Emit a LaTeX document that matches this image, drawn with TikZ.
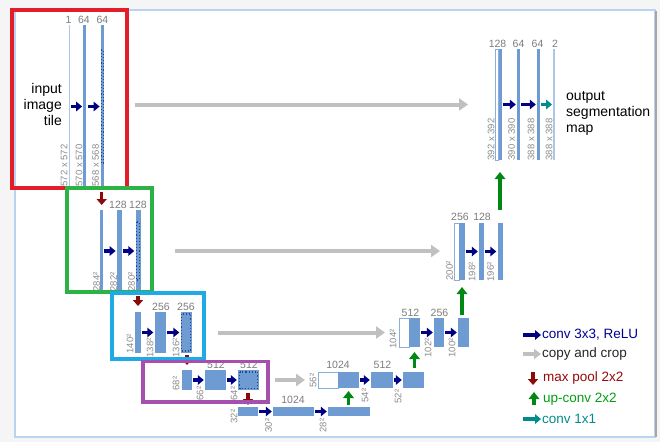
\documentclass[tikz,border=0pt]{standalone}
\usepackage{fontspec}
\setmainfont{Liberation Sans}
\usetikzlibrary{arrows.meta}
\definecolor{barblue}{RGB}{110,155,210}
\definecolor{barlight}{RGB}{170,198,234}
\definecolor{navyar}{RGB}{0,0,130}
\definecolor{grayar}{RGB}{192,192,192}
\definecolor{redar}{RGB}{140,10,10}
\definecolor{greenar}{RGB}{0,135,20}
\definecolor{tealar}{RGB}{0,140,140}
\definecolor{lblgray}{RGB}{125,125,125}
\definecolor{rotgray}{RGB}{140,140,140}
\definecolor{boxred}{RGB}{228,30,40}
\definecolor{boxgreen}{RGB}{45,178,70}
\definecolor{boxcyan}{RGB}{30,170,230}
\definecolor{boxpurple}{RGB}{165,80,175}
\definecolor{panelbd}{RGB}{185,212,242}
\definecolor{cropblue}{RGB}{40,70,150}
\tikzset{
  bar/.style={fill=barblue, draw=none, inner sep=0pt, outer sep=0pt},
  barthin/.style={fill=barlight, draw=none, inner sep=0pt, outer sep=0pt},
  barwhite/.style={fill=white, draw=barblue!80, line width=0.7pt, inner sep=0pt, outer sep=0pt},
  chan/.style={text=lblgray, font=\fontsize{10.5}{12}\selectfont, inner sep=0pt},
  dim/.style={text=rotgray, font=\fontsize{9.5}{11}\selectfont, inner sep=0.5pt, rotate=90, anchor=west},
  conv/.style={draw=navyar, line width=3.2pt, -{Triangle[length=6pt,width=9.5pt]}, shorten <=1.2pt, shorten >=1.2pt},
  convone/.style={draw=tealar, line width=3.2pt, -{Triangle[length=6pt,width=9.5pt]}, shorten <=1.2pt, shorten >=1.2pt},
  copyar/.style={draw=grayar, line width=4pt, -{Triangle[length=9pt,width=12pt]}},
  pool/.style={draw=redar, line width=3.4pt, -{Triangle[length=6pt,width=10pt]}},
  upar/.style={draw=greenar, line width=3.6pt, -{Triangle[length=7pt,width=10.5pt]}},
  cropdot/.style={draw=cropblue, dotted, line width=1.1pt},
  hbox/.style={line width=3.2pt},
  legtext/.style={anchor=west, font=\fontsize{13.5}{15}\selectfont, inner sep=0pt},
  bigtext/.style={font=\fontsize{14}{16}\selectfont, inner sep=0pt}
}
\begin{document}
\begin{tikzpicture}[x=1pt,y=-1pt]
\useasboundingbox (0,0) rectangle (660,442);
\fill[black!4] (0,0) rectangle (660,442);
\draw[panelbd, line width=1.5pt, fill=white] (15,10) rectangle (655,437);
\draw[black!35, line width=1.2pt] (656,11) -- (656,437);

% ---- level 1 (down)
\node[barthin, minimum width=1.5pt, minimum height=163pt] (b1a) at (69.5,106.5) {};
\node[bar, minimum width=3pt, minimum height=163pt] (b1b) at (84.8,106.5) {};
\node[bar, minimum width=3pt, minimum height=163pt] (b1c) at (102.3,106.5) {};
\draw[cropdot] (101.2,50) rectangle (103.4,163);
% ---- level 2
\node[bar, minimum width=2.5pt, minimum height=82pt] (b2a) at (101.7,251) {};
\node[bar, minimum width=5pt, minimum height=82pt] (b2b) at (119.3,251) {};
\node[bar, minimum width=5pt, minimum height=82pt] (b2c) at (138,251) {};
\draw[cropdot] (136.3,222) rectangle (139.7,280);
% ---- level 3
\node[bar, minimum width=6pt, minimum height=41pt] (b3a) at (138,332.5) {};
\node[bar, minimum width=11pt, minimum height=41pt] (b3b) at (160,332.5) {};
\node[bar, minimum width=11pt, minimum height=41pt] (b3c) at (186,332.5) {};
\draw[cropdot] (181.5,314) rectangle (190.5,351);
% ---- level 4
\node[bar, minimum width=10pt, minimum height=20pt] (b4a) at (187,380) {};
\node[bar, minimum width=21pt, minimum height=20pt] (b4b) at (215.5,380) {};
\node[bar, minimum width=21pt, minimum height=20pt] (b4c) at (248.5,380) {};
\draw[cropdot] (239.5,372) rectangle (257.5,388.5);
% ---- level 5
\node[bar, minimum width=20pt, minimum height=9pt] (b5a) at (248,411.5) {};
\node[bar, minimum width=41pt, minimum height=9pt] (b5b) at (293.5,411.5) {};
\node[bar, minimum width=42pt, minimum height=9pt] (b5c) at (349,411.5) {};
% ---- up level 4
\node[barwhite, minimum width=20pt, minimum height=16pt] (u4a) at (328,380) {};
\node[bar, minimum width=21pt, minimum height=16pt] (u4b) at (348.5,380) {};
\node[bar, minimum width=22pt, minimum height=16pt] (u4c) at (382,380) {};
\node[bar, minimum width=21pt, minimum height=16pt] (u4d) at (413.5,380) {};
% ---- up level 3
\node[barwhite, minimum width=10pt, minimum height=29pt] (u3a) at (404,332.5) {};
\node[bar, minimum width=11pt, minimum height=29pt] (u3b) at (414.5,332.5) {};
\node[bar, minimum width=10pt, minimum height=29pt] (u3c) at (439,332.5) {};
\node[bar, minimum width=11pt, minimum height=29pt] (u3d) at (463.5,332.5) {};
% ---- up level 2
\node[barwhite, minimum width=5pt, minimum height=57pt] (u2a) at (456.5,251.5) {};
\node[bar, minimum width=6pt, minimum height=57pt] (u2b) at (462,251.5) {};
\node[bar, minimum width=5pt, minimum height=57pt] (u2c) at (481.5,251.5) {};
\node[bar, minimum width=5pt, minimum height=57pt] (u2d) at (500,251.5) {};
% ---- up level 1
\node[barwhite, minimum width=3pt, minimum height=111pt] (u1a) at (496.5,104.5) {};
\node[bar, minimum width=3pt, minimum height=111pt] (u1b) at (500,104.5) {};
\node[bar, minimum width=3pt, minimum height=111pt] (u1c) at (518.5,104.5) {};
\node[bar, minimum width=3pt, minimum height=111pt] (u1d) at (538.5,104.5) {};
\node[barthin, minimum width=1.5pt, minimum height=111pt] (u1e) at (554,104.5) {};

% ---- conv arrows
\draw[conv] (b1a.east) -- (b1b.west);
\draw[conv] (b1b.east) -- (b1c.west);
\draw[conv] (b2a.east) -- (b2b.west);
\draw[conv] (b2b.east) -- (b2c.west);
\draw[conv] (b3a.east) -- (b3b.west);
\draw[conv] (b3b.east) -- (b3c.west);
\draw[conv] (b4a.east) -- (b4b.west);
\draw[conv] (b4b.east) -- (b4c.west);
\draw[conv] (b5a.east) -- (b5b.west);
\draw[conv] (b5b.east) -- (b5c.west);
\draw[conv] (u4b.east) -- (u4c.west);
\draw[conv] (u4c.east) -- (u4d.west);
\draw[conv] (u3b.east) -- (u3c.west);
\draw[conv] (u3c.east) -- (u3d.west);
\draw[conv] (u2b.east) -- (u2c.west);
\draw[conv] (u2c.east) -- (u2d.west);
\draw[conv] (u1b.east) -- (u1c.west);
\draw[conv] (u1c.east) -- (u1d.west);
\draw[convone] (u1d.east) -- (u1e.west);

% ---- copy and crop
\draw[copyar, shorten <=31pt, shorten >=27pt] (u1a.west -| b1c.east) -- (u1a.west);
\draw[copyar, shorten <=34.5pt, shorten >=14pt] (b2c.east) -- (b2c.east -| u2a.west);
\draw[copyar, shorten <=26.5pt, shorten >=14pt] (b3c.east) -- (b3c.east -| u3a.west);
\draw[copyar, shorten <=16pt, shorten >=13pt] (b4c.east) -- (b4c.east -| u4a.west);

% ---- max pool
\draw[pool, shorten <=4pt, shorten >=5pt] (b2a.north |- b1c.south) -- (b2a.north);
\draw[pool, shorten <=4pt, shorten >=6pt] (b3a.north |- b2c.south) -- (b3a.north);
\draw[pool, shorten <=2pt, shorten >=5pt] (b4a.north |- b3c.south) -- (b4a.north);
\draw[pool, shorten <=3pt, shorten >=2pt] (b5a.north |- b4c.south) -- (b5a.north);

% ---- up-conv
\draw[upar, shorten <=2pt, shorten >=3pt] (u4b.south |- b5c.north) -- (u4b.south);
\draw[upar, shorten <=4pt, shorten >=5pt] (u3b.south |- u4d.north) -- (u3b.south);
\draw[upar, shorten <=3pt, shorten >=7pt] (u2b.south |- u3d.north) -- (u2b.south);
\draw[upar, line width=4.2pt, shorten <=13pt, shorten >=12pt] (u1b.south |- u2d.north) -- (u1b.south);

% ---- channel labels
\node[chan] (c1a) at (68.5,20) {1};
\node[chan] (c1b) at (84,20) {64};
\node[chan] (c1c) at (102.5,20) {64};
\node[chan] (c2b) at (118,205) {128};
\node[chan] (c2c) at (138,205) {128};
\node[chan] (c3b) at (161,307) {256};
\node[chan] (c3c) at (186,307) {256};
\node[chan] (c4b) at (216,365) {512};
\node[chan] (c4c) at (249,365) {512};
\node[chan] (c5b) at (293,400) {1024};
\node[chan] (cu4b) at (338,365) {1024};
\node[chan] (cu4c) at (382.5,365) {512};
\node[chan] (cu3b) at (410.5,313) {512};
\node[chan] (cu3c) at (439.5,313) {256};
\node[chan] (cu2b) at (460,217) {256};
\node[chan] (cu2c) at (482,217) {128};
\node[chan] (cu1b) at (497.5,44) {128};
\node[chan] (cu1c) at (518.5,44) {64};
\node[chan] (cu1d) at (537.5,44) {64};
\node[chan] (cu1e) at (555,44) {2};

% ---- size labels
\node[dim] (d1a) at (64,187) {572 x 572};
\node[dim] (d1b) at (79,187) {570 x 570};
\node[dim] (d1c) at (95.5,187) {568 x 568};
\node[dim] (d2a) at (96.5,292) {284²};
\node[dim] (d2b) at (113.5,292) {282²};
\node[dim] (d2c) at (131.5,292) {280²};
\node[dim] (d3a) at (130,354) {140²};
\node[dim] (d3b) at (150,358) {138²};
\node[dim] (d3c) at (176,358) {136²};
\node[dim] (d4a) at (176,391) {68²};
\node[dim] (d4b) at (200,401) {66²};
\node[dim] (d4c) at (234,401) {64²};
\node[dim] (d5a) at (234,424) {32²};
\node[dim] (d5b) at (268.5,433) {30²};
\node[dim] (d5c) at (323,433) {28²};
\node[dim] (du4a) at (313,388) {56²};
\node[dim] (du4c) at (365,403) {54²};
\node[dim] (du4d) at (398,404) {52²};
\node[dim] (du3a) at (393,349) {104²};
\node[dim] (du3c) at (428,358) {102²};
\node[dim] (du3d) at (452,358) {100²};
\node[dim] (du2a) at (449.5,281) {200²};
\node[dim] (du2c) at (472,282) {198²};
\node[dim] (du2d) at (490.5,282) {196²};
\node[dim] (du1a) at (491,161) {392 x 392};
\node[dim] (du1c) at (511.5,161) {390 x 390};
\node[dim] (du1d) at (531,161) {388 x 388};
\node[dim] (du1e) at (549,161) {388 x 388};

% ---- texts
\node[bigtext, align=right, anchor=east] (intext) at (62,104) {input\\image\\tile};
\node[bigtext, align=left, anchor=west] (outtext) at (566,113) {output\\segmentation\\map};

% ---- highlight boxes
\draw[hbox, boxred] (12,10) rectangle (127,188);
\draw[hbox, boxgreen] (67,188) rectangle (152,292);
\draw[hbox, boxcyan] (112,293) rectangle (204,359);
\draw[hbox, boxpurple] (143,361.5) rectangle (268,402);

% ---- legend
\coordinate (lg1a) at (523,335); \coordinate (lg1b) at (541,335);
\coordinate (lg2a) at (523,354); \coordinate (lg2b) at (541,354);
\coordinate (lg3a) at (533,372); \coordinate (lg3b) at (533,385);
\coordinate (lg4a) at (534,405); \coordinate (lg4b) at (534,392);
\coordinate (lg5a) at (523,419); \coordinate (lg5b) at (541,419);
\draw[conv, shorten <=0pt, shorten >=0pt] (lg1a) -- (lg1b);
\draw[copyar, line width=3.4pt, -{Triangle[length=7pt,width=10pt]}] (lg2a) -- (lg2b);
\draw[pool] (lg3a) -- (lg3b);
\draw[upar] (lg4a) -- (lg4b);
\draw[convone, shorten <=0pt, shorten >=0pt] (lg5a) -- (lg5b);
\node[legtext, text=navyar!85!blue] (t1) at (542,335) {conv 3x3, ReLU};
\node[legtext, text=black!85] (t2) at (542,354) {copy and crop};
\node[legtext, text=redar!90!red] (t3) at (543,378) {max pool 2x2};
\node[legtext, text=greenar!80!green] (t4) at (543,399) {up-conv 2x2};
\node[legtext, text=tealar] (t5) at (542,419) {conv 1x1};
\end{tikzpicture}
\end{document}
